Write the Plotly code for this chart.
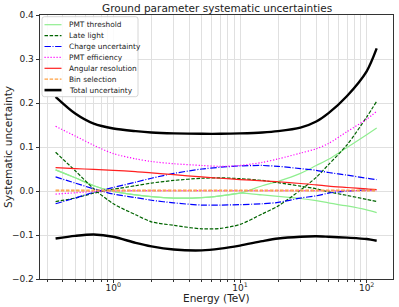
import plotly.graph_objects as go

# ---------------- data ----------------
energy = [0.35, 0.5, 0.7, 1, 1.5, 2, 3, 5, 7, 10, 15, 20, 30, 40, 50, 70, 100, 120]

pmt_threshold_up = [0.048, 0.030, 0.012, -0.001, -0.009, -0.013, -0.016, -0.015, -0.011, -0.005,
                    0.012, 0.022, 0.040, 0.058, 0.072, 0.099, 0.128, 0.143]
pmt_threshold_down = [0.048, 0.030, 0.012, -0.001, -0.009, -0.013, -0.016, -0.015, -0.011, -0.005,
                      -0.009, -0.012, -0.017, -0.022, -0.027, -0.034, -0.043, -0.049]
late_light_up = [0.088, 0.046, 0.005, -0.029, -0.054, -0.070, -0.078, -0.086, -0.085, -0.076,
                 -0.052, -0.034, 0.002, 0.031, 0.060, 0.105, 0.168, 0.204]
late_light_down = [-0.024, -0.016, -0.005, 0.004, 0.012, 0.018, 0.024, 0.029, 0.030, 0.028,
                   0.024, 0.019, 0.011, 0.005, -0.002, -0.010, -0.019, -0.024]
charge_up = [-0.029, -0.016, -0.003, 0.008, 0.020, 0.029, 0.040, 0.050, 0.054, 0.057,
             0.058, 0.056, 0.051, 0.047, 0.042, 0.036, 0.029, 0.026]
charge_down = [0.032, 0.018, 0.005, -0.007, -0.015, -0.021, -0.027, -0.032, -0.032, -0.031,
               -0.029, -0.026, -0.016, -0.011, -0.005, 0.000, 0.002, 0.003]
pmt_eff_up = [0.147, 0.125, 0.104, 0.085, 0.073, 0.067, 0.062, 0.058, 0.056, 0.058,
              0.065, 0.073, 0.086, 0.096, 0.108, 0.135, 0.163, 0.181]
pmt_eff_down = [-0.007, -0.004, -0.001, 0.000, 0.001, 0.001, 0.001, 0.001, 0.001, 0.001,
                0.001, 0.001, 0.001, 0.001, 0.001, 0.001, 0.001, 0.001]
angular_res = [0.053, 0.051, 0.049, 0.047, 0.044, 0.041, 0.037, 0.032, 0.029, 0.026,
               0.023, 0.021, 0.017, 0.014, 0.011, 0.008, 0.005, 0.003]
bin_sel_a = [0.002, 0.002, 0.002, 0.002, 0.002, 0.002, 0.002, 0.002, 0.002, 0.002,
             0.002, 0.002, 0.002, 0.002, 0.002, 0.002, 0.002, 0.002]
bin_sel_b = [0.000, 0.000, 0.000, 0.000, 0.000, 0.000, 0.000, 0.000, 0.000, 0.000,
             0.000, 0.000, 0.000, 0.000, 0.000, 0.000, 0.000, 0.000]
total_up = [0.214, 0.176, 0.153, 0.142, 0.136, 0.133, 0.131, 0.130, 0.130, 0.131,
            0.133, 0.136, 0.144, 0.158, 0.177, 0.216, 0.272, 0.324]
total_down = [-0.108, -0.102, -0.099, -0.104, -0.118, -0.126, -0.133, -0.135, -0.131, -0.124,
              -0.114, -0.108, -0.104, -0.103, -0.104, -0.106, -0.109, -0.113]

legend_labels = ["PMT threshold", "Late light", "Charge uncertainty", "PMT efficiency",
                 "Angular resolution", "Bin selection", "Total uncertainty"]
y_ticks = [-0.2, -0.1, 0.0, 0.1, 0.2, 0.3, 0.4]
x_major = [1, 10, 100]
x_major_text = ["10<sup>0</sup>", "10<sup>1</sup>", "10<sup>2</sup>"]
x_minor = [0.3, 0.4, 0.5, 0.6, 0.7, 0.8, 0.9, 2, 3, 4, 5, 6, 7, 8, 9,
           20, 30, 40, 50, 60, 70, 80, 90]
title_text = "Ground parameter systematic uncertainties"
x_title = "Energy (TeV)"
y_title = "Systematic uncertainty"

# ---------------- styles ----------------
styles = {
    "PMT threshold": dict(color="#90ee90", width=1.2, dash="solid"),
    "Late light": dict(color="#006400", width=1.2, dash="3.5px,1.6px"),
    "Charge uncertainty": dict(color="#0000ff", width=1.2, dash="6.4px,1.6px,1px,1.6px"),
    "PMT efficiency": dict(color="#ff00ff", width=1.2, dash="1.2px,1.8px"),
    "Angular resolution": dict(color="#ff2020", width=1.2, dash="solid"),
    "Bin selection": dict(color="#ffa040", width=1.2, dash="3.5px,1.6px"),
    "Total uncertainty": dict(color="#000000", width=2.4, dash="solid"),
}

series = [
    ("PMT threshold", pmt_threshold_up),
    ("PMT threshold", pmt_threshold_down),
    ("Late light", late_light_up),
    ("Late light", late_light_down),
    ("Charge uncertainty", charge_up),
    ("Charge uncertainty", charge_down),
    ("PMT efficiency", pmt_eff_up),
    ("PMT efficiency", pmt_eff_down),
    ("Angular resolution", angular_res),
    ("Bin selection", bin_sel_a),
    ("Bin selection", bin_sel_b),
    ("Total uncertainty", total_up),
    ("Total uncertainty", total_down),
]

fig = go.Figure()
for name, vals in series:
    fig.add_trace(go.Scatter(x=energy, y=vals, mode="lines", name=name, showlegend=False,
                             hoverinfo="skip",
                             line=dict(shape="spline", smoothing=0.8, **styles[name])))

# ---------------- layout ----------------
W, H = 399, 307
L, R, T, B = 40, 6, 15, 28
pw, ph = W - L - R, H - T - B

def px_x(p):
    return (p - L) / pw

def px_y(p):
    return (H - B - p) / ph

grid_col = "#e0e0e0"
font_fam = "DejaVu Sans, sans-serif"
txt_col = "#222"

fig.update_layout(
    width=W, height=H,
    margin=dict(l=L, r=R, t=T, b=B, pad=0, autoexpand=False),
    paper_bgcolor="white", plot_bgcolor="white",
    font=dict(family=font_fam, size=9, color=txt_col),
    showlegend=False,
)

fig.update_xaxes(
    type="log", range=[-0.579, 2.208], automargin=False,
    tickmode="array", tickvals=x_major, ticktext=x_major_text,
    ticks="outside", ticklen=3.5, tickwidth=0.8, tickcolor="#333",
    ticklabelstandoff=-3,
    showgrid=True, gridcolor=grid_col, gridwidth=0.8,
    minor=dict(tickmode="array", tickvals=x_minor, ticks="outside", ticklen=2,
               tickwidth=0.6, tickcolor="#333", showgrid=True, gridcolor=grid_col, gridwidth=0.8),
    showline=True, linecolor="#333", linewidth=0.9, mirror=True, zeroline=False,
    tickfont=dict(size=9),
)
fig.update_yaxes(
    range=[-0.2, 0.4], automargin=False, tickmode="array", tickvals=y_ticks, tickformat=".1f",
    ticks="outside", ticklen=3.5, tickwidth=0.8, tickcolor="#333",
    showgrid=True, gridcolor=grid_col, gridwidth=0.8,
    showline=True, linecolor="#333", linewidth=0.9, mirror=True, zeroline=False,
    tickfont=dict(size=9),
)

# titles as positioned text
fig.add_annotation(text=title_text, xref="paper", yref="paper", x=px_x(216.5), y=px_y(8),
                   xanchor="center", yanchor="middle", showarrow=False,
                   font=dict(size=10.5, color=txt_col, family=font_fam))
fig.add_annotation(text=x_title, xref="paper", yref="paper", x=px_x(216.5), y=px_y(297.5),
                   xanchor="center", yanchor="middle", showarrow=False,
                   font=dict(size=10.5, color=txt_col, family=font_fam))
fig.add_annotation(text=y_title, xref="paper", yref="paper", x=px_x(8), y=px_y(147),
                   xanchor="center", yanchor="middle", showarrow=False, textangle=-90,
                   font=dict(size=10.5, color=txt_col, family=font_fam))

# ---------------- custom compact legend ----------------
bx0, bx1, by0, by1 = px_x(42), px_x(138), px_y(96.7), px_y(16.7)
rx, ry = 2.5 / pw, 2.5 / ph
path = (f"M {bx0+rx},{by1} L {bx1-rx},{by1} Q {bx1},{by1} {bx1},{by1-ry} "
        f"L {bx1},{by0+ry} Q {bx1},{by0} {bx1-rx},{by0} L {bx0+rx},{by0} "
        f"Q {bx0},{by0} {bx0},{by0+ry} L {bx0},{by1-ry} Q {bx0},{by1} {bx0+rx},{by1} Z")
fig.add_shape(type="path", path=path, xref="paper", yref="paper",
              fillcolor="rgba(255,255,255,0.85)", line=dict(color="#cccccc", width=0.8),
              layer="above")

for i, lab in enumerate(legend_labels):
    yc = px_y(24.7 + 10.9 * i)
    st = styles[lab]
    fig.add_shape(type="line", xref="paper", yref="paper",
                  x0=px_x(44.5), x1=px_x(61.5), y0=yc, y1=yc,
                  line=dict(color=st["color"], width=st["width"] if lab != "Total uncertainty" else 2.6,
                            dash=st["dash"]),
                  layer="above")
    fig.add_annotation(text=lab, xref="paper", yref="paper", x=px_x(66.5), y=yc,
                       xanchor="left", yanchor="middle", showarrow=False,
                       font=dict(size=7.4, color=txt_col, family=font_fam))

fig.write_html("out.html", config={"displayModeBar": False},
               post_script="document.body.style.margin='0';document.body.style.padding='0';")
